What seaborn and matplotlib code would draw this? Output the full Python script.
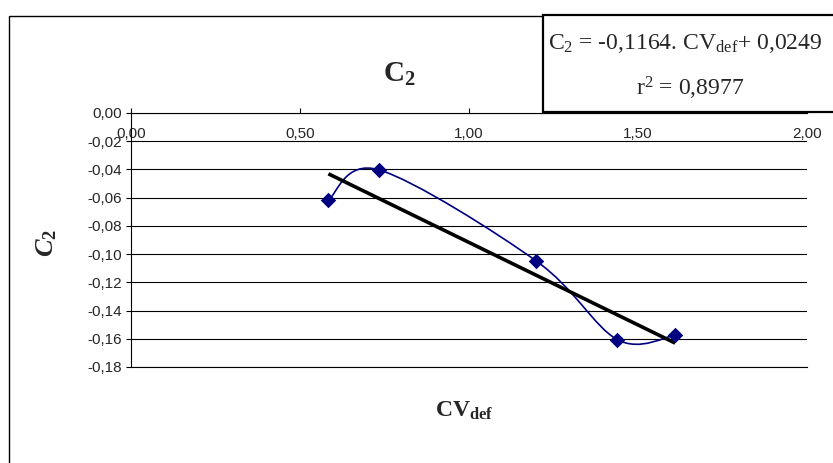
import numpy as np
import pandas as pd
import matplotlib
matplotlib.use("Agg")
import matplotlib.pyplot as plt
import seaborn as sns
from matplotlib.path import Path
from matplotlib.patches import PathPatch, Rectangle

# ---- data ----
cv_def = [0.584, 0.734, 1.198, 1.439, 1.610]
c2 = [-0.0616, -0.0403, -0.1047, -0.1606, -0.1575]
x_ticks = [0.0, 0.5, 1.0, 1.5, 2.0]
x_tick_labels = ["0,00", "0,50", "1,00", "1,50", "2,00"]
y_ticks = [0.0, -0.02, -0.04, -0.06, -0.08, -0.10, -0.12, -0.14, -0.16, -0.18]
y_tick_labels = ["0,00", "-0,02", "-0,04", "-0,06", "-0,08", "-0,10", "-0,12", "-0,14", "-0,16", "-0,18"]
title_text = r"$\mathbf{C_2}$"
eq_line1 = r"C$_2$ = -0,1164. CV$_{\mathrm{def}}$+ 0,0249"
eq_line2 = r"r$^2$ = 0,8977"
xlabel_text = r"$\mathbf{CV_{def}}$"
ylabel_text = r"$\mathbfit{C}_\mathbf{2}$"

df = pd.DataFrame({"CV_def": cv_def, "C2": c2})

sns.set_style("white")
plt.rcParams["font.family"] = ["Liberation Sans", "DejaVu Sans"]
plt.rcParams["mathtext.fontset"] = "custom"
plt.rcParams["mathtext.rm"] = "Liberation Serif"
plt.rcParams["mathtext.it"] = "Liberation Serif:italic"
plt.rcParams["mathtext.bf"] = "Liberation Serif:bold"
plt.rcParams["mathtext.bfit"] = "Liberation Serif:italic:bold"

W, H = 833, 463
fig = plt.figure(figsize=(W / 100, H / 100), dpi=100)
fig.patch.set_facecolor("white")

# outer chart frame
fig.add_artist(Rectangle((9 / W, -0.1), 2.0, (H - 16) / H + 0.1,
                         transform=fig.transFigure, fill=False,
                         edgecolor="black", lw=1.0))

left, right, top, bottom = 131, 807, 113, 367
ax = fig.add_axes([left / W, 1 - bottom / H, (right - left) / W, (bottom - top) / H])
ax.set_facecolor("white")

# smoothed series line (Excel-style Bezier through the data points)
pts = np.column_stack([df["CV_def"].to_numpy(), df["C2"].to_numpy()])
verts = [tuple(pts[0])]
codes = [Path.MOVETO]
n = len(pts)
for i in range(n - 1):
    p0 = pts[i - 1] if i > 0 else pts[i]
    p1 = pts[i]
    p2 = pts[i + 1]
    p3 = pts[i + 2] if i + 2 < n else pts[i + 1]
    c1 = p1 + (p2 - p0) / 6.0
    c2p = p2 - (p3 - p1) / 6.0
    verts += [tuple(c1), tuple(c2p), tuple(p2)]
    codes += [Path.CURVE4] * 3
ax.add_patch(PathPatch(Path(verts, codes), fill=False, edgecolor="#000080", lw=1.2, zorder=3))

# linear trend line
sns.regplot(data=df, x="CV_def", y="C2", scatter=False, ci=None, ax=ax,
            line_kws=dict(color="black", lw=2.6, solid_capstyle="butt", zorder=4))

# markers
sns.scatterplot(data=df, x="CV_def", y="C2", marker="D", s=62, color="#000080",
                edgecolor="#000080", linewidth=0, ax=ax, zorder=5)

ax.set_xlim(0, 2.0)
ax.set_ylim(-0.18, 0.0)
ax.set_xticks(x_ticks)
ax.set_xticklabels(x_tick_labels)
ax.set_yticks(y_ticks)
ax.set_yticklabels(y_tick_labels)
ax.set_xlabel("")
ax.set_ylabel("")

ax.xaxis.tick_top()
ax.tick_params(axis="x", which="major", direction="out", length=3.6, width=0.8,
               color="black", pad=-23.5, labelsize=11, labeltop=True, labelbottom=False)
ax.tick_params(axis="y", which="major", direction="out", length=3.6, width=0.8,
               color="black", pad=3, labelsize=11, left=True)

ax.yaxis.grid(True, color="black", lw=0.8)
ax.xaxis.grid(False)
for s in ["left", "top", "bottom"]:
    ax.spines[s].set_visible(True)
    ax.spines[s].set_color("black")
    ax.spines[s].set_linewidth(0.8)
ax.spines["right"].set_visible(False)

# equation box
fig.add_artist(Rectangle((543 / W, 1 - 112 / H), 1.0, 97 / H,
                         transform=fig.transFigure, facecolor="white",
                         edgecolor="black", lw=1.6, zorder=10))
fig.text(548 / W, 1 - 49 / H, eq_line1, fontsize=17, ha="left", va="baseline",
         family="Liberation Serif", zorder=11)
fig.text(690 / W, 1 - 96 / H, eq_line2, fontsize=17, ha="center", va="baseline",
         family="Liberation Serif", zorder=11)

# title and axis labels
fig.text(399 / W, 1 - 82 / H, title_text, fontsize=21, ha="center", va="baseline")
fig.text(464 / W, 1 - 417 / H, xlabel_text, fontsize=17, ha="center", va="baseline")
fig.text(47 / W, 1 - 243 / H, ylabel_text, fontsize=19, ha="center", va="center", rotation=90)

fig.savefig("out.png", dpi=100)
